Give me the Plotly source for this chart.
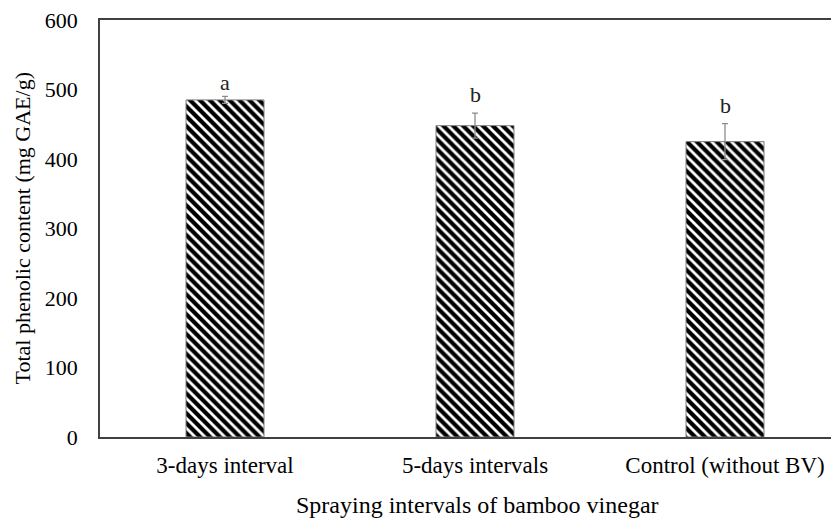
import plotly.graph_objects as go

categories = ["3-days interval", "5-days intervals", "Control (without BV)"]
values = [485, 448, 425]
errors = [5, 18, 26]
letters = ["a", "b", "b"]
y_ticks = [0, 100, 200, 300, 400, 500, 600]

FONT = "Liberation Serif, Times New Roman, serif"
letter_shift = [-1, 4, 4]

fig = go.Figure()
fig.add_trace(go.Bar(
    x=categories, y=values, width=0.312,
    marker=dict(color="white",
                line=dict(color="#7f7f7f", width=1),
                pattern=dict(shape="\\", fgcolor="black", bgcolor="white",
                             size=7, solidity=0.6, fgopacity=1)),
    error_y=dict(type="data", array=errors, visible=True,
                 color="#8c8c8c", thickness=1.3, width=3),
    showlegend=False,
))

for c, v, e, t, s in zip(categories, values, errors, letters, letter_shift):
    fig.add_annotation(x=c, y=v + e, text=t, showarrow=False,
                       yanchor="bottom", yshift=s,
                       font=dict(family=FONT, size=22, color="#222"))

# axis titles
fig.add_annotation(xref="paper", yref="paper", x=0, y=0.5, xshift=-78,
                   text="Total phenolic content (mg GAE/g)", textangle=-90,
                   showarrow=False, xanchor="center", yanchor="middle",
                   font=dict(family=FONT, size=22, color="black"))
fig.add_annotation(xref="x", yref="paper", x=categories[1], y=0, yshift=-68,
                   xshift=2, text="Spraying intervals of bamboo vinegar",
                   showarrow=False, xanchor="center", yanchor="middle",
                   font=dict(family=FONT, size=24, color="black"))

fig.update_layout(
    width=839, height=519,
    margin=dict(l=92, r=0, t=12, b=90),
    paper_bgcolor="white", plot_bgcolor="white",
    font=dict(family=FONT, size=22, color="black"),
    xaxis=dict(range=[-0.5, 2.488], showline=True, mirror=True,
               linecolor="#404040",
               linewidth=1.5, ticks="", showgrid=False, automargin=False,
               ticklabelstandoff=7,
               tickfont=dict(size=23)),
    yaxis=dict(range=[0, 600], tickvals=y_ticks, showline=True,
               linecolor="#404040", linewidth=1.5, ticks="", showgrid=False,
               zeroline=False, automargin=False, ticklabelstandoff=16,
               ticklabeloverflow="allow",
               tickfont=dict(size=22)),
)

fig.write_html("out.html")
